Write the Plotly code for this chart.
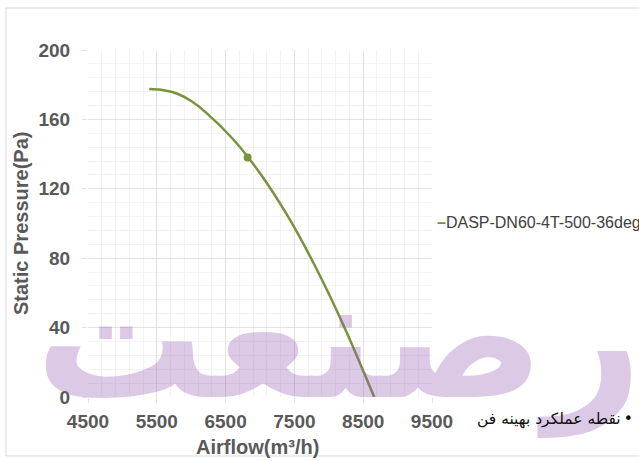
import plotly.graph_objects as go

# ---- data ----
airflow = [5390, 5600, 5800, 6000, 6200, 6600, 7000, 7400, 7800, 8200, 8660]
pressure = [177.5, 176.8, 174.8, 170.6, 164.5, 149.0, 129.0, 104.5, 75.5, 42.5, 0.0]
best_airflow = [6820]
best_pressure = [138]
x_ticks = [4500, 5500, 6500, 7500, 8500, 9500]
y_ticks = [0, 40, 80, 120, 160, 200]
series_name = "DASP-DN60-4T-500-36deg"
point_name = "نقطه عملکرد بهینه فن"
x_title = "Airflow(m³/h)"
y_title = "Static Pressure(Pa)"
watermark = "رصنعت"

GREEN = "#77933C"
TXT = "#595959"
FONT = "Liberation Sans"

fig = go.Figure()
fig.add_trace(go.Scatter(
    x=airflow, y=pressure, mode="lines", name=series_name,
    line=dict(color=GREEN, width=2.5, shape="spline", smoothing=1.0),
    hoverinfo="x+y"))
fig.add_trace(go.Scatter(
    x=best_airflow, y=best_pressure, mode="markers", name=point_name,
    marker=dict(color=GREEN, size=8)))

L, R, T, B = 88, 207, 50, 64
W, H = 639, 461
pw, ph = W - L - R, H - T - B

def px(xp):
    return (xp - L) / pw

def py(yp):
    return (H - B - yp) / ph

axis_common = dict(
    showgrid=True, gridcolor="#e2e2e2", gridwidth=1, zeroline=False,
    showline=False, ticks="outside", ticklen=5, tickcolor="#e2e2e2",
    tickfont=dict(family=FONT, size=19, color=TXT, weight="bold"),
    fixedrange=True,
)
fig.update_xaxes(range=[4500, 9500], tickvals=x_ticks,
                 ticktext=[str(v) for v in x_ticks],
                 minor=dict(dtick=200, tick0=4500, showgrid=True,
                            gridcolor="#f3f3f3", ticks=""),
                 ticklabelstandoff=2,
                 **axis_common)
fig.update_yaxes(range=[0, 200], tickvals=y_ticks,
                 ticktext=[str(v) for v in y_ticks],
                 minor=dict(dtick=8, tick0=0, showgrid=True,
                            gridcolor="#f3f3f3", ticks=""),
                 ticklabelstandoff=8,
                 **axis_common)

annotations = [
    dict(text=watermark, x=px(338), y=py(338), xref="paper", yref="paper",
         showarrow=False, xanchor="center", yanchor="middle", opacity=0.32,
         font=dict(family="DejaVu Sans", size=170, color="rgb(150,90,180)",
                   weight="bold")),
    dict(text=y_title, x=px(21), y=py(224), xref="paper", yref="paper",
         textangle=-90, showarrow=False, xanchor="center", yanchor="middle",
         font=dict(family=FONT, size=20, color=TXT, weight="bold")),
    dict(text=x_title, x=px(257), y=py(447), xref="paper", yref="paper",
         showarrow=False, xanchor="center", yanchor="middle",
         font=dict(family=FONT, size=20, color=TXT, weight="bold")),
    dict(text=f"<span style='color:{GREEN}'><b>–</b></span>{series_name}",
         x=px(435), y=py(222), xref="paper", yref="paper",
         showarrow=False, xanchor="left", yanchor="middle",
         font=dict(family=FONT, size=16, color="#404040")),
    dict(text=f"{point_name}\u2009•", x=px(635), y=py(419), xref="paper", yref="paper",
         showarrow=False, xanchor="right", yanchor="middle",
         font=dict(family="DejaVu Sans", size=15.5, color="#111111")),
]

fig.update_layout(
    width=W, height=H, margin=dict(l=L, r=R, t=T, b=B),
    plot_bgcolor="white", paper_bgcolor="white", showlegend=False,
    annotations=annotations,
    shapes=[dict(type="rect", xref="paper", yref="paper",
                 x0=px(6), x1=px(660), y0=py(456), y1=py(8),
                 line=dict(color="#d9d9d9", width=1), layer="below")],
)

fig.write_html("out.html", config={"displayModeBar": False},
               post_script="document.body.style.margin='0px';document.body.style.overflow='hidden';")
